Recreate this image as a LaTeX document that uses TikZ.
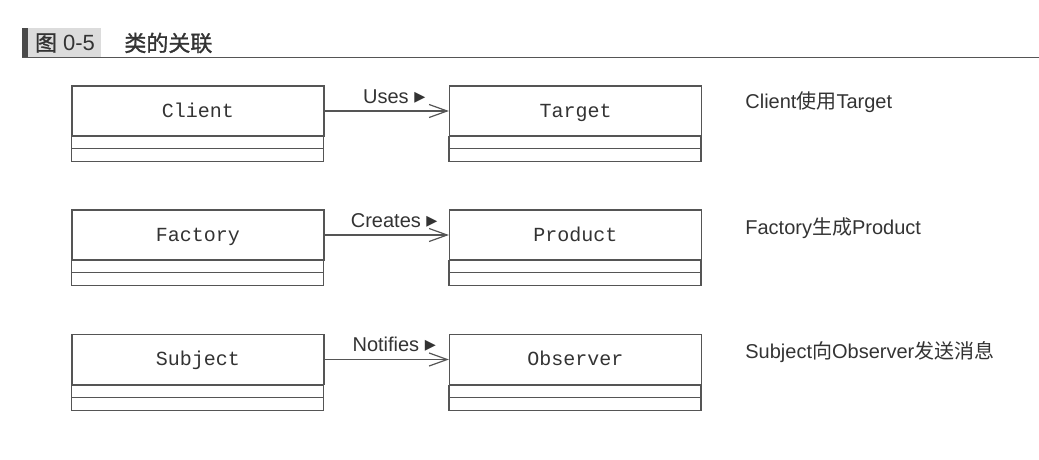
\documentclass[tikz,border=0pt]{standalone}
\usepackage{fontspec}
\setmainfont{Liberation Sans}
\setmonofont{Liberation Mono}
\newfontfamily\cjk[AutoFakeBold=1.2]{Noto Sans CJK SC}
\newfontfamily\symfont{DejaVu Sans}
\usetikzlibrary{arrows.meta,positioning,calc}
\definecolor{InkGrey}{HTML}{333333}
\definecolor{LineGrey}{HTML}{555555}
\definecolor{TagGrey}{HTML}{DCDCDC}
\definecolor{BarGrey}{HTML}{4A4A4A}

\begin{document}
\begin{tikzpicture}[
    x=0.5pt, y=-0.5pt,
    every node/.style={font=\fontsize{10}{12}\selectfont, text=InkGrey},
    cls/.style={draw=LineGrey, line width=0.6pt, minimum width=126pt, minimum height=25pt, inner sep=0pt, text height=1.6ex, text depth=0.4ex, font=\ttfamily\fontsize{10}{12}\selectfont},
    clsline/.style={draw=LineGrey, line width=0.6pt},
    assoc/.style={-{Straight Barb[length=9pt,width=6.5pt]}, LineGrey, line width=0.6pt},
    rel/.style={pos=0.56, above=3.5pt, inner sep=0pt},
    note/.style={anchor=west, inner sep=0pt}
  ]
    \useasboundingbox (0,0) rectangle (1039,460);

    % heading
    \fill[BarGrey] (22,28) rectangle (28,57);
    \fill[TagGrey] (28,28) rectangle (101,57);
    \node[font=\fontsize{11}{13}\selectfont] (tag) at (65,43) {{\cjk\bfseries 图} 0-5};
    \node[note, font=\cjk\bfseries\fontsize{11}{13}\selectfont] (title) at (124,43) {类的关联};
    \draw[LineGrey, line width=0.8pt] (22,57.5) -- (1039,57.5);

    % classes
    \node[cls] (client) at (198,111) {Client};
    \node[cls] (target) at (575.5,111) {Target};
    \node[cls] (factory) at (198,235) {Factory};
    \node[cls] (product) at (575.5,235) {Product};
    \node[cls] (subject) at (198,359.5) {Subject};
    \node[cls] (observer) at (575.5,359.5) {Observer};
    \foreach \c in {client,target,factory,product,subject,observer}{
      \draw[clsline] (\c.south west) rectangle ++(252,12);
      \draw[clsline] (\c.south west) ++(0,12) rectangle ++(252,13);
    }

    % associations
    \draw[assoc] (client) -- node[rel] {Uses~{\symfont\fontsize{11}{12}\selectfont ▸}} (target);
    \draw[assoc] (factory) -- node[rel] {Creates~{\symfont\fontsize{11}{12}\selectfont ▸}} (product);
    \draw[assoc] (subject) -- node[rel] {Notifies~{\symfont\fontsize{11}{12}\selectfont ▸}} (observer);

    % notes
    \node[note] (n1) at (745,102) {Client{\cjk 使用}Target};
    \node[note] (n2) at (745,228) {Factory{\cjk 生成}Product};
    \node[note] (n3) at (745,352) {Subject{\cjk 向}Observer{\cjk 发送消息}};
  \end{tikzpicture}
\end{document}
